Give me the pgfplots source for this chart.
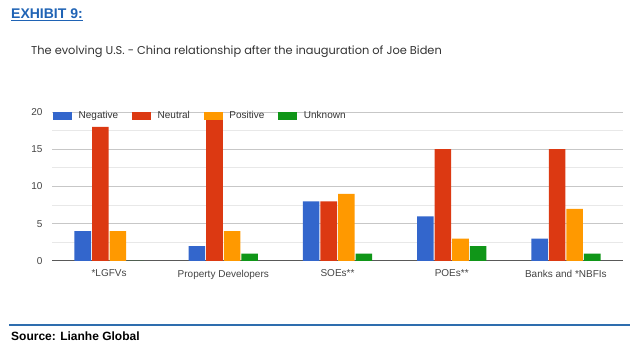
\documentclass[border=0pt]{standalone}
\usepackage{pgfplots}
\pgfplotsset{compat=1.18}
\usepackage{fontspec}
\setmainfont{Liberation Sans}
\newfontfamily\titlefont{Poppins}
\definecolor{gneg}{HTML}{3366CC}
\definecolor{gneu}{HTML}{DC3912}
\definecolor{gpos}{HTML}{FF9900}
\definecolor{gunk}{HTML}{109618}
\definecolor{exblue}{HTML}{1F63B5}
\definecolor{lineblue}{HTML}{2E6DAE}
\definecolor{txt}{HTML}{333333}
\definecolor{tick}{HTML}{444444}
\begin{document}
\begin{tikzpicture}[x=1pt,y=1pt]
\fill[white] (0,0) rectangle (640,353);
\node[anchor=base west, inner sep=0pt, font=\bfseries\fontsize{14}{16}\selectfont, text=exblue] at (11,353-19) {\underline{EXHIBIT 9:}};
\node[anchor=base west, inner sep=0pt, font=\titlefont\fontsize{11.4}{14}\selectfont, text=txt] at (31,353-55) {The evolving U.S. - China relationship after the inauguration of Joe Biden};
\draw[lineblue, line width=2pt] (9,353-325) -- (630,353-325);
\node[anchor=base west, inner sep=0pt, font=\bfseries\fontsize{12}{14}\selectfont, text=black] at (11,353-341) {Source: Lianhe Global};
\begin{axis}[
  at={(52pt,92pt)}, anchor=south west,
  scale only axis, width=571pt, height=149pt,
  xmin=-0.5, xmax=4.5, ymin=0, ymax=20,
  ybar=1pt, bar width=0.145,
  xtick={0,1,2,3,4},
  xticklabels={*LGFVs, Property Developers, SOEs**, POEs**, Banks and *NBFIs},
  ytick={5,10,15,20},
  minor ytick={2.5,7.5,12.5,17.5},
  extra y ticks={0},
  extra y tick style={grid=major, major grid style={color=black!65, line width=1pt}},
  ymajorgrids, yminorgrids,
  major grid style={color=black!22, line width=0.8pt},
  minor grid style={color=black!9, line width=0.8pt},
  axis line style={draw=none},
  tick style={draw=none},
  tick label style={font=\fontsize{10}{12}\selectfont, text=tick},
  yticklabel style={xshift=-6pt},
  xticklabel style={yshift=-1pt},
  /pgf/number format/assume math mode=true,
  legend columns=4,
  legend style={at={(axis description cs:0,1)}, anchor=north west, draw=none, fill=none,
    inner sep=0pt, yshift=3pt, xshift=1pt, font=\fontsize{10}{12}\selectfont, text=txt,
    /tikz/every odd column/.append style={column sep=4.5pt},
    /tikz/every even column/.append style={column sep=12pt}},
  legend image code/.code={\fill (0pt,-4pt) rectangle (19pt,4pt);},
  clip=false,
]
\addplot[fill=gneg, draw=none] coordinates {(0,4) (1,2) (2,8) (3,6) (4,3)};
\addplot[fill=gneu, draw=none] coordinates {(0,18) (1,19) (2,8) (3,15) (4,15)};
\addplot[fill=gpos, draw=none] coordinates {(0,4) (1,4) (2,9) (3,3) (4,7)};
\addplot[fill=gunk, draw=none] coordinates {(0,0) (1,1) (2,1) (3,2) (4,1)};
\legend{Negative, Neutral, Positive, Unknown}
\end{axis}
\end{tikzpicture}
\end{document}
